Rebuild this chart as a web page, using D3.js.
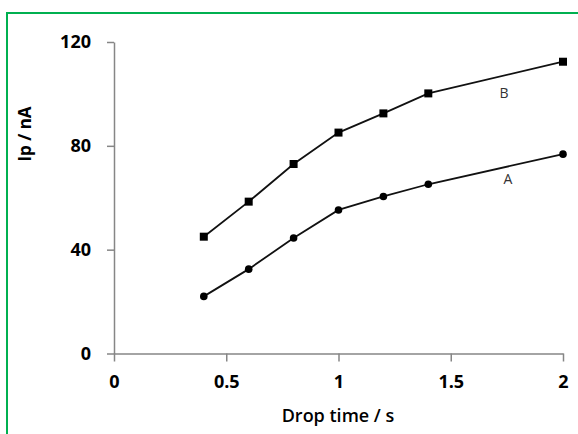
<!DOCTYPE html>
<html>
<head>
<meta charset="utf-8">
<script src="https://cdn.jsdelivr.net/npm/d3@7"></script>
<style>
  body { margin: 0; background: #fff; }
  svg { display: block; }
</style>
</head>
<body>
<div id="chart"></div>
<script>
// Data
const dropTimes = [0.4, 0.6, 0.8, 1.0, 1.2, 1.4, 2.0];
const seriesA = [22, 32.5, 44.5, 55.3, 60.5, 65.2, 76.8];
const seriesB = [45, 58.5, 73, 85.1, 92.5, 100.2, 112.4];
const xTicks = [0, 0.5, 1, 1.5, 2];
const yTicks = [0, 40, 80, 120];

const width = 578;
const height = 434;

const svg = d3.select("#chart").append("svg")
    .attr("width", width)
    .attr("height", height);

// green frame (only top and left visible, picture is cropped)
svg.append("path")
    .attr("d", `M7,${height} L7,13 L${width},13`)
    .attr("fill", "none")
    .attr("stroke", "#00b050")
    .attr("stroke-width", 2);

const x = d3.scaleLinear().domain([0, 2]).range([114, 563]);
const y = d3.scaleLinear().domain([0, 120]).range([353.5, 42]);

const font = "'Open Sans', sans-serif";
const axisColor = "#868686";

// Y axis
svg.append("g")
    .attr("transform", `translate(${x(0)},0)`)
    .call(d3.axisLeft(y).tickValues(yTicks).tickSize(7).tickSizeOuter(0).tickPadding(16))
    .call(g => g.select(".domain").attr("stroke", axisColor).attr("stroke-width", 1.5))
    .call(g => g.selectAll(".tick line").attr("stroke", axisColor).attr("stroke-width", 1.5))
    .call(g => g.selectAll("text")
        .attr("fill", "#000")
        .style("font-family", font)
        .style("font-size", "18px")
        .style("font-weight", "bold"));

// X axis
svg.append("g")
    .attr("transform", `translate(0,${y(0)})`)
    .call(d3.axisBottom(x).tickValues(xTicks).tickFormat(d3.format("")).tickSize(8).tickSizeOuter(0).tickPadding(14))
    .call(g => g.select(".domain").attr("stroke", axisColor).attr("stroke-width", 1.5))
    .call(g => g.selectAll(".tick line").attr("stroke", axisColor).attr("stroke-width", 1.5))
    .call(g => g.selectAll("text")
        .attr("fill", "#000")
        .style("font-family", font)
        .style("font-size", "18px")
        .style("font-weight", "bold"));

// Axis titles
svg.append("text")
    .attr("x", 338)
    .attr("y", 422)
    .attr("text-anchor", "middle")
    .style("font-family", font)
    .style("font-size", "18px")
    .style("font-weight", "600")
    .text("Drop time / s");

svg.append("text")
    .attr("transform", "translate(31,134) rotate(-90)")
    .attr("text-anchor", "middle")
    .style("font-family", font)
    .style("font-size", "17px")
    .style("font-weight", "bold")
    .text("Ip / nA");

const line = d3.line()
    .x(d => x(d[0]))
    .y(d => y(d[1]));

const ptsA = dropTimes.map((t, i) => [t, seriesA[i]]);
const ptsB = dropTimes.map((t, i) => [t, seriesB[i]]);

svg.append("path")
    .datum(ptsB)
    .attr("d", line)
    .attr("fill", "none")
    .attr("stroke", "#111")
    .attr("stroke-width", 1.8);

svg.append("path")
    .datum(ptsA)
    .attr("d", line)
    .attr("fill", "none")
    .attr("stroke", "#111")
    .attr("stroke-width", 1.8);

// square markers for B
svg.append("g")
    .selectAll("rect")
    .data(ptsB)
    .join("rect")
      .attr("x", d => x(d[0]) - 4)
      .attr("y", d => y(d[1]) - 4)
      .attr("width", 8)
      .attr("height", 8)
      .attr("fill", "#000");

// circle markers for A
svg.append("g")
    .selectAll("circle")
    .data(ptsA)
    .join("circle")
      .attr("cx", d => x(d[0]))
      .attr("cy", d => y(d[1]))
      .attr("r", 3.8)
      .attr("fill", "#000");

// series labels
svg.append("text")
    .attr("x", 504)
    .attr("y", 98)
    .attr("text-anchor", "middle")
    .style("font-family", font)
    .style("font-size", "14px")
    .attr("fill", "#333")
    .text("B");

svg.append("text")
    .attr("x", 508)
    .attr("y", 184)
    .attr("text-anchor", "middle")
    .style("font-family", font)
    .style("font-size", "14px")
    .attr("fill", "#333")
    .text("A");
</script>
</body>
</html>
